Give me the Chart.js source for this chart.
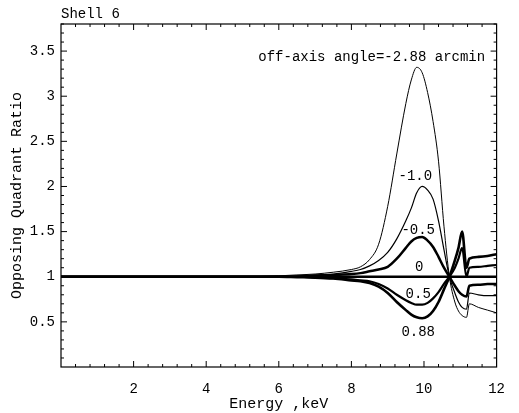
<!DOCTYPE html>
<html>
<head>
<meta charset="utf-8">
<script src="https://cdn.jsdelivr.net/npm/chart.js@4/dist/chart.umd.min.js"></script>
<style>
  html, body { margin: 0; padding: 0; background: #fff; }
  #wrap { width: 519px; height: 413px; }
</style>
</head>
<body>
<div id="wrap"><canvas id="myChart" width="519" height="413"></canvas></div>
<script>
// energies (keV) shared by all curves
const energy = [0, 1, 2, 3, 4, 5, 6, 6.5, 7, 7.5, 8, 8.25, 8.5, 8.75, 9, 9.25, 9.5, 9.65, 9.8, 9.95,
  10.1, 10.25, 10.4, 10.55, 10.7, 10.85, 10.95, 11.05, 11.17, 11.25, 11.5, 11.75, 12];

// opposing quadrant ratio for each off-axis angle
const ratioM288 = [1, 1, 1, 1, 1, 1, 1.01, 1.02, 1.03, 1.05, 1.08, 1.11, 1.19, 1.36, 1.78, 2.36, 2.92, 3.18, 3.32, 3.26,
  3.04, 2.72, 2.28, 1.56, 1.0, 0.72, 0.62, 0.57, 0.55, 0.7, 0.66, 0.63, 0.6];
const ratioM10 = [1, 1, 1, 1, 1, 1, 1, 1.01, 1.02, 1.03, 1.06, 1.08, 1.12, 1.18, 1.27, 1.42, 1.62, 1.76, 1.93, 2.0,
  1.96, 1.86, 1.62, 1.3, 1.0, 0.82, 0.72, 0.66, 0.64, 0.82, 0.8, 0.79, 0.79];
const ratioM05 = [1, 1, 1, 1, 1, 1, 1, 1, 1.01, 1.02, 1.03, 1.04, 1.06, 1.08, 1.11, 1.2, 1.32, 1.39, 1.43, 1.44,
  1.4, 1.33, 1.22, 1.1, 1.0, 0.9, 0.84, 0.8, 0.78, 0.9, 0.91, 0.92, 0.92];
const ratio0 = [1, 1, 1, 1, 1, 1, 1, 1, 1, 1, 1, 1, 1, 1, 1, 1, 1, 1, 1, 1,
  1, 1, 1, 1, 1, 1, 1, 1, 1, 1, 1, 1, 1];
const ratioP05 = [1, 1, 1, 1, 1, 1, 1, 1, 0.99, 0.985, 0.97, 0.96, 0.95, 0.92, 0.87, 0.8, 0.74, 0.71, 0.69, 0.69,
  0.71, 0.76, 0.83, 0.92, 1.0, 1.1, 1.2, 1.32, 1.0, 1.1, 1.11, 1.12, 1.13];
const ratioP088 = [1, 1, 1, 1, 1, 1, 1, 0.995, 0.99, 0.98, 0.96, 0.95, 0.93, 0.89, 0.82, 0.72, 0.63, 0.58, 0.55, 0.54,
  0.56, 0.62, 0.72, 0.86, 1.0, 1.18, 1.32, 1.5, 1.1, 1.2, 1.22, 1.23, 1.25];

const angleNames = ['-2.88', '-1.0', '-0.5', '0', '0.5', '0.88'];
const xTicks = [2, 4, 6, 8, 10, 12];
const yTicks = [0.5, 1, 1.5, 2, 2.5, 3, 3.5];

const FONT = 'Liberation Mono';

function pts(ys) {
  return energy.map((x, i) => ({ x: x, y: ys[i] }));
}

function curve(name, ys, width) {
  return {
    label: name,
    data: pts(ys),
    borderColor: '#000',
    borderWidth: width,
    pointRadius: 0,
    fill: false,
    cubicInterpolationMode: 'monotone'
  };
}

// frame with inward ticks on all four sides, Mathematica style
const framePlugin = {
  id: 'frame',
  afterDatasetsDraw(chart) {
    const ctx = chart.ctx;
    const a = chart.chartArea;
    const xs = chart.scales.x, ys = chart.scales.y;
    ctx.save();
    ctx.strokeStyle = '#000';
    ctx.lineWidth = 1.2;
    ctx.strokeRect(a.left, a.top, a.right - a.left, a.bottom - a.top);
    ctx.lineWidth = 1;
    ctx.beginPath();
    for (let i = 1; i < 30; i++) {
      const v = i * 0.4;
      const px = xs.getPixelForValue(v);
      const len = (i % 5 === 0) ? 6 : 3;
      ctx.moveTo(px, a.bottom); ctx.lineTo(px, a.bottom - len);
      ctx.moveTo(px, a.top); ctx.lineTo(px, a.top + len);
    }
    for (let i = 1; i <= 38; i++) {
      const v = i * 0.1;
      const py = ys.getPixelForValue(v);
      const len = (i % 5 === 0) ? 6 : 3;
      ctx.moveTo(a.left, py); ctx.lineTo(a.left + len, py);
      ctx.moveTo(a.right, py); ctx.lineTo(a.right - len, py);
    }
    ctx.stroke();

    // title
    ctx.fillStyle = '#000';
    ctx.font = '14px "' + FONT + '"';
    ctx.textAlign = 'left';
    ctx.textBaseline = 'middle';
    ctx.fillText('Shell 6', a.left, 14);

    // curve labels
    ctx.textAlign = 'center';
    const lab = [
      ['off-axis angle=-2.88 arcmin', 8.56, 3.43],
      ['-1.0', 9.76, 2.11],
      ['-0.5', 9.84, 1.52],
      ['0', 9.87, 1.1],
      ['0.5', 9.84, 0.81],
      ['0.88', 9.84, 0.38]
    ];
    lab.forEach(l => {
      ctx.fillText(l[0], xs.getPixelForValue(l[1]), ys.getPixelForValue(l[2]));
    });
    ctx.restore();
  }
};

const ctx = document.getElementById('myChart').getContext('2d');
const myChart = new Chart(ctx, {
  type: 'line',
  data: {
    datasets: [
      curve(angleNames[0], ratioM288, 1),
      curve(angleNames[1], ratioM10, 1.2),
      curve(angleNames[2], ratioM05, 2.5),
      curve(angleNames[3], ratio0, 2.5),
      curve(angleNames[4], ratioP05, 2.2),
      curve(angleNames[5], ratioP088, 2.6)
    ]
  },
  options: {
    responsive: false,
    animation: false,
    layout: { padding: { top: 24, right: 8, left: 0, bottom: 0 } },
    plugins: {
      legend: { display: false },
      tooltip: { enabled: false }
    },
    scales: {
      x: {
        type: 'linear',
        min: 0,
        max: 12,
        grid: { display: false, drawTicks: false },
        border: { display: false },
        afterBuildTicks: (s) => { s.ticks = xTicks.map(v => ({ value: v })); },
        afterFit: (s) => { s.height = 46; },
        ticks: {
          color: '#000',
          font: { family: FONT, size: 14 },
          padding: 14,
          maxRotation: 0
        },
        title: {
          display: true,
          text: 'Energy ,keV',
          color: '#000',
          font: { family: FONT, size: 15 },
          padding: { top: 0, bottom: 0 }
        }
      },
      y: {
        type: 'linear',
        min: 0,
        max: 3.8,
        grid: { display: false, drawTicks: false },
        border: { display: false },
        afterBuildTicks: (s) => { s.ticks = yTicks.map(v => ({ value: v })); },
        afterFit: (s) => { s.width = 61; },
        ticks: {
          color: '#000',
          font: { family: FONT, size: 14 },
          padding: 6,
          callback: (v) => String(v)
        },
        title: {
          display: true,
          text: 'Opposing Quadrant Ratio',
          color: '#000',
          font: { family: FONT, size: 15 },
          padding: { top: 8, bottom: 0 }
        }
      }
    }
  },
  plugins: [framePlugin]
});
</script>
</body>
</html>
